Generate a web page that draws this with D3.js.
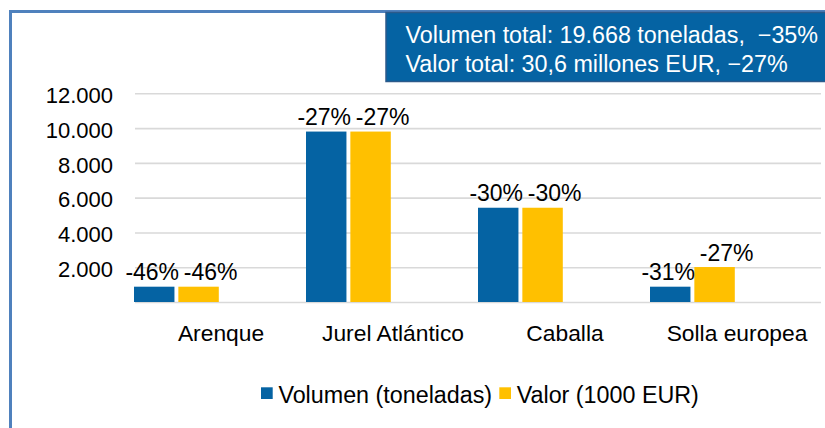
<!DOCTYPE html>
<html>
<head>
<meta charset="utf-8">
<script src="https://cdn.jsdelivr.net/npm/d3@7"></script>
<style>
  body { margin: 0; background: #fff; }
  svg { display: block; font-family: "Liberation Sans", Arial, sans-serif; }
</style>
</head>
<body>
<div id="chart"></div>
<script>
// data
const species = ["Arenque", "Jurel Atlántico", "Caballa", "Solla europea"];
const seriesKeys = ["vol", "val"];
const seriesNames = ["Volumen (toneladas)", "Valor (1000 EUR)"];
const volumen = [880, 9800, 5420, 880];
const valor = [880, 9800, 5420, 2010];
const volumenLabels = ["-46%", "-27%", "-30%", "-31%"];
const valorLabels = ["-46%", "-27%", "-30%", "-27%"];
const yTicks = [2000, 4000, 6000, 8000, 10000, 12000];
const infoLines = [
  "Volumen total: 19.668 toneladas,  \u221235%",
  "Valor total: 30,6 millones EUR, \u221227%"
];

const colors = { vol: "#0563a3", val: "#ffc000" };

const W = 825, H = 428;
const plot = { left: 135, right: 823, top: 93.3, bottom: 302 };

const svg = d3.select("#chart").append("svg")
  .attr("width", W)
  .attr("height", H);

svg.append("rect").attr("width", W).attr("height", H).attr("fill", "#fff");

// outer frame (runs off the right and bottom edges)
svg.append("rect")
  .attr("x", 10.5).attr("y", 11.5)
  .attr("width", 840).attr("height", 440)
  .attr("fill", "none")
  .attr("stroke", "#4f81bd")
  .attr("stroke-width", 3);

// scales
const x = d3.scaleBand()
  .domain(species)
  .range([plot.left, plot.right]);

const xSub = d3.scaleBand()
  .domain(seriesKeys)
  .range([-1, x.bandwidth() * 0.493 - 1])
  .paddingInner(0.088);

const y = d3.scaleLinear()
  .domain([0, 12000])
  .range([plot.bottom, plot.top]);

const esFormat = d3.formatLocale({ decimal: ",", thousands: ".", grouping: [3], currency: ["", "€"] }).format(",");

// gridlines
const grid = svg.append("g")
  .attr("transform", `translate(${plot.left},0)`)
  .call(d3.axisLeft(y)
    .tickValues([0].concat(yTicks))
    .tickSize(-(plot.right - plot.left - 2))
    .tickFormat(""));
grid.select(".domain").remove();
grid.selectAll("line").attr("stroke", "#d9d9d9").attr("stroke-width", 1.6);

// y axis labels
const yAxis = svg.append("g")
  .attr("transform", `translate(${plot.left},0)`)
  .call(d3.axisLeft(y)
    .tickValues(yTicks)
    .tickSize(0)
    .tickPadding(22)
    .tickFormat(esFormat));
yAxis.select(".domain").remove();
yAxis.selectAll("text")
  .attr("font-size", "22px")
  .attr("font-family", "Liberation Sans, Arial, sans-serif")
  .attr("fill", "#000")
  .attr("dy", "0.42em");

// x axis labels
const xAxis = svg.append("g")
  .attr("transform", `translate(0,${plot.bottom})`)
  .call(d3.axisBottom(x).tickSize(0).tickPadding(23));
xAxis.select(".domain").remove();
xAxis.selectAll("text")
  .attr("font-size", "22.8px")
  .attr("font-family", "Liberation Sans, Arial, sans-serif")
  .attr("fill", "#000");

// bars
const rows = species.map((s, i) => ({
  species: s,
  values: [
    { key: "vol", value: volumen[i], label: volumenLabels[i] },
    { key: "val", value: valor[i], label: valorLabels[i] }
  ]
}));

const groups = svg.selectAll(".cat")
  .data(rows)
  .join("g")
  .attr("class", "cat")
  .attr("transform", d => `translate(${x(d.species)},0)`);

groups.selectAll("rect")
  .data(d => d.values)
  .join("rect")
  .attr("x", d => xSub(d.key))
  .attr("width", xSub.bandwidth())
  .attr("y", d => y(d.value))
  .attr("height", d => y(0) - y(d.value))
  .attr("fill", d => colors[d.key]);

// value labels, nudged apart so neighbours do not collide
const labelShift = { vol: -2, val: 12 };
groups.selectAll("text.lbl")
  .data(d => d.values)
  .join("text")
  .attr("class", "lbl")
  .attr("x", d => xSub(d.key) + xSub.bandwidth() / 2 + labelShift[d.key])
  .attr("y", d => y(d.value) - 6.5)
  .attr("text-anchor", "middle")
  .attr("font-size", "23px")
  .attr("fill", "#000")
  .text(d => d.label);

// info box
const box = svg.append("g");
box.append("rect")
  .attr("x", 386).attr("y", 12.5)
  .attr("width", 460).attr("height", 69)
  .attr("fill", "#0563a3")
  .attr("stroke", "#2c5a8a")
  .attr("stroke-width", 1.5);
box.selectAll("text")
  .data(infoLines)
  .join("text")
  .attr("x", 405.5)
  .attr("y", (d, i) => 43.3 + i * 28.7)
  .attr("font-size", "23.3px")
  .attr("fill", "#fff")
  .style("white-space", "pre")
  .text(d => d);

// legend
const legendX = [261, 499.3];
const legend = svg.selectAll(".legend")
  .data(seriesKeys)
  .join("g")
  .attr("class", "legend")
  .attr("transform", (d, i) => `translate(${legendX[i]},387.3)`);

legend.append("rect")
  .attr("width", 11.7)
  .attr("height", 11.7)
  .attr("fill", d => colors[d]);

legend.append("text")
  .attr("x", 17.4)
  .attr("y", 16)
  .attr("font-size", "23.3px")
  .attr("fill", "#000")
  .text((d, i) => seriesNames[i]);
</script>
</body>
</html>
